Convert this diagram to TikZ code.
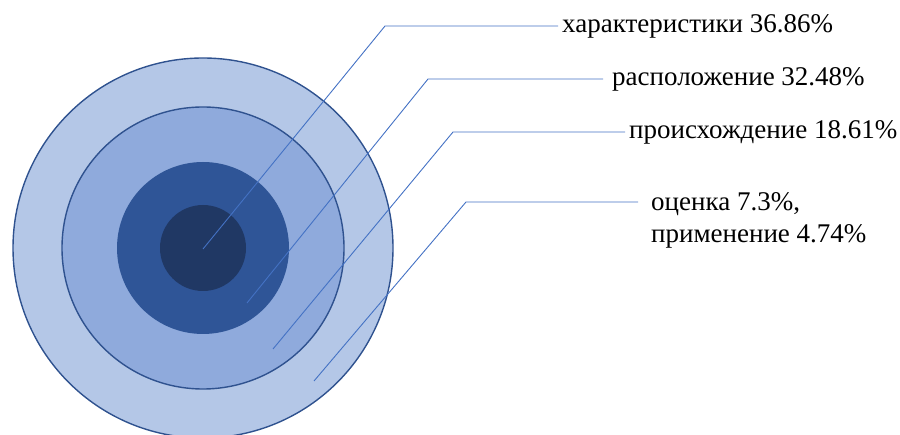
\documentclass[tikz,border=0pt]{standalone}
\usepackage{fontspec}
\setmainfont{Liberation Serif}
\usepackage{xcolor}

\definecolor{ringOut}{HTML}{B4C7E7}
\definecolor{ringTwo}{HTML}{8FAADC}
\definecolor{ringThree}{HTML}{2F5597}
\definecolor{ringCore}{HTML}{203864}
\definecolor{ringEdge}{HTML}{2F528F}
\definecolor{leader}{HTML}{4472C4}

\tikzset{
 leaderline/.style={leader, line width=0.9pt},
 lbl/.style={anchor=west, inner xsep=4pt, inner ysep=0pt, text height=19pt, text depth=5pt, font=\fontsize{27}{32}\selectfont},
}

\begin{document}
\begin{tikzpicture}[x=1pt, y=-1pt]
 \useasboundingbox (0,0) rectangle (900,435);

 \coordinate (C) at (203,248);

 % rings
 \fill[ringOut, draw=ringEdge, line width=1.4pt] (C) circle[radius=190pt];
 \fill[ringTwo, draw=ringEdge, line width=1.4pt] (C) circle[radius=141pt];
 \fill[ringThree] (C) circle[radius=86pt];
 \fill[ringCore] (C) circle[radius=43pt];

 % label nodes
 \node[lbl] (L1) at (558,26) {характеристики 36.86\%};
 \node[lbl, inner xsep=9pt] (L2) at (603,79) {расположение 32.48\%};
 \node[lbl] (L3) at (625,132) {происхождение 18.61\%};
 \node[anchor=base west, inner sep=0pt, align=left, font=\fontsize{27}{32}\selectfont] (L4) at (651,243) {оценка 7.3\%,\\применение 4.74\%};

 % leader lines
 \coordinate (A1) at (203,249);
 \coordinate (B1) at (385,26);
 \coordinate (A2) at (247,303);
 \coordinate (B2) at (428,79);
 \coordinate (A3) at (273,349);
 \coordinate (B3) at (453,132);
 \coordinate (A4) at (314,381);
 \coordinate (B4) at (466,202);
 \coordinate (E4) at (638,202);

 \draw[leaderline] (A1) -- (B1) -- (L1.west);
 \draw[leaderline] (A2) -- (B2) -- (L2.west);
 \draw[leaderline] (A3) -- (B3) -- (L3.west);
 \draw[leaderline] (A4) -- (B4) -- (E4);

\end{tikzpicture}
\end{document}
